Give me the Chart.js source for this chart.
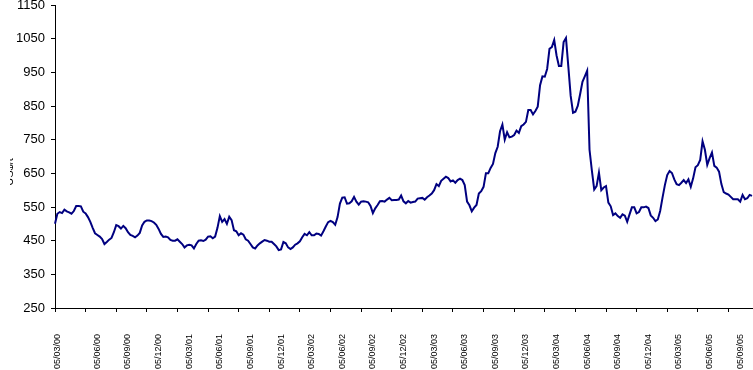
<!DOCTYPE html>
<html>
<head>
<meta charset="utf-8">
<script src="https://cdn.jsdelivr.net/npm/chart.js@4"></script>
<style>
  html, body { margin: 0; padding: 0; background: #fff; }
  #wrap { width: 753px; height: 370px; }
</style>
</head>
<body>
<div id="wrap"><canvas id="priceChart" width="753" height="370"></canvas></div>
<script>
// quarterly tick labels on the date axis
const tickLabels = [
  "05/03/00", "05/06/00", "05/09/00", "05/12/00",
  "05/03/01", "05/06/01", "05/09/01", "05/12/01",
  "05/03/02", "05/06/02", "05/09/02", "05/12/02",
  "05/03/03", "05/06/03", "05/09/03", "05/12/03",
  "05/03/04", "05/06/04", "05/09/04", "05/12/04",
  "05/03/05", "05/06/05", "05/09/05"
];

// weekly price (2000 - 2005)
const prices2000 = [
  500, 530, 535, 532, 542, 537, 534, 530, 538, 553,
  553, 552, 536, 531, 520, 506, 488, 472, 467, 462,
  455, 440, 446, 453, 458, 475, 496, 493, 486, 494,
  487, 475, 467, 464, 460, 465, 473, 495, 506, 510,
  510, 508, 504, 497, 485, 470, 461, 462, 460, 452,
  450, 450, 454, 447, 440, 430, 436
];
const prices2001 = [
  438, 436, 427, 440, 450, 451, 449, 453, 462, 463,
  457, 462, 488, 523, 506, 514, 500, 521, 511, 481,
  478, 466, 472, 468, 454, 450, 440, 430, 427, 436,
  442, 447, 452, 450, 447, 447, 440, 433, 422, 424,
  446, 442, 430, 425, 430, 438, 442, 448, 460, 470,
  466, 475, 466, 466, 471, 470
];
const prices2002 = [
  465, 478, 492, 505, 509, 505, 497, 520, 560, 578,
  579, 560, 561, 567, 580, 566, 557, 566, 567, 566,
  564, 553, 532, 546, 556, 567, 568, 566, 572, 577,
  570, 571, 571, 572, 584, 567, 561, 568, 563, 565,
  566, 575, 576, 577, 572, 579, 584, 590, 600, 618,
  612, 628, 634, 640, 636, 626, 629, 622, 630, 634,
  630, 615
];
const prices2003 = [
  566, 555, 537, 548, 556, 590, 597, 610, 650, 650,
  666, 678, 710, 729, 775, 795, 750, 772, 757, 759,
  764, 777, 770, 790, 795, 803, 838, 838, 825, 835,
  848, 912, 938, 937, 960, 1020, 1025, 1046, 1000, 969,
  969, 1040, 1052, 967, 880, 830, 833, 850, 885, 922,
  938, 955, 720, 658, 602, 612, 652
];
const prices2004 = [
  600, 608, 612, 563, 552, 526, 531, 523, 518, 528,
  524, 506, 528, 549, 549, 531, 535, 549, 549, 551,
  547, 525, 518, 508, 513, 538, 578, 615, 645, 657,
  651, 632, 618, 615, 622, 630, 621, 632, 610, 635,
  668, 674, 690, 745, 720, 675, 695, 712, 672, 667,
  655, 618, 594, 590, 587, 580, 573, 573, 573, 566,
  586, 573, 576, 586, 583
];

const prices = [].concat(prices2000, prices2001, prices2002, prices2003, prices2004);

// one category per week, starting the week before 05/03/00
const weeks = prices.map((p, i) => {
  const d = new Date(2000, 1, 27 + 7 * i);
  const dd = String(d.getDate()).padStart(2, "0");
  const mm = String(d.getMonth() + 1).padStart(2, "0");
  const yy = String(d.getFullYear()).slice(2);
  return dd + "/" + mm + "/" + yy;
});

// which week carries which quarterly label
const labelWeek = (i) => {
  if (i === 1) return 0;
  if (i >= 18 && (i - 18) % 13 === 0) return (i - 18) / 13 + 1;
  return -1;
};

const fontFamily = "'Liberation Sans', Arial, sans-serif";

// the axis title is cut off at the left edge, only slivers show
const yTitle = {
  id: "yTitle",
  afterDraw(chart) {
    const ctx = chart.ctx;
    ctx.save();
    ctx.beginPath();
    ctx.rect(10, 155, 3, 35);
    ctx.clip();
    ctx.translate(15, 172);
    ctx.rotate(-Math.PI / 2);
    ctx.fillStyle = "#000";
    ctx.font = "11px " + fontFamily;
    ctx.textAlign = "center";
    ctx.textBaseline = "bottom";
    ctx.fillText("US$/t", 0, 0);
    ctx.restore();
  }
};

new Chart(document.getElementById("priceChart"), {
  type: "line",
  data: {
    labels: weeks,
    datasets: [{
      data: prices,
      borderColor: "#000080",
      borderWidth: 2,
      pointRadius: 0,
      tension: 0,
      fill: false
    }]
  },
  options: {
    responsive: false,
    animation: false,
    devicePixelRatio: 1,
    layout: { padding: { top: 5, right: 1, left: 0, bottom: 0 } },
    plugins: { legend: { display: false }, tooltip: { enabled: false } },
    scales: {
      x: {
        offset: false,
        grid: {
          drawOnChartArea: false,
          drawTicks: true,
          tickLength: 4,
          offset: false,
          tickColor: (c) => (c.index % 13 === 0 ? "#000" : "rgba(0,0,0,0)")
        },
        border: { color: "#000", width: 1 },
        ticks: {
          autoSkip: false,
          maxRotation: 90,
          minRotation: 90,
          padding: 22,
          color: "#000",
          font: { family: fontFamily, size: 9 },
          callback: (v, i) => {
            const k = labelWeek(i);
            return k >= 0 ? tickLabels[k] : "";
          }
        },
        afterFit: (s) => {
          s.height = 62;
          s.paddingLeft = 0;
          s.paddingRight = 0;
        }
      },
      y: {
        min: 250,
        max: 1150,
        grid: {
          drawOnChartArea: false,
          drawTicks: true,
          tickLength: 4,
          tickColor: "#000"
        },
        border: { color: "#000", width: 1 },
        ticks: {
          stepSize: 100,
          padding: 6,
          color: "#000",
          font: { family: fontFamily, size: 13 },
          callback: (v) => String(v)
        },
        afterFit: (s) => {
          s.width = 55;
          s.paddingTop = 0;
          s.paddingBottom = 0;
        }
      }
    }
  },
  plugins: [yTitle]
});
</script>
</body>
</html>
